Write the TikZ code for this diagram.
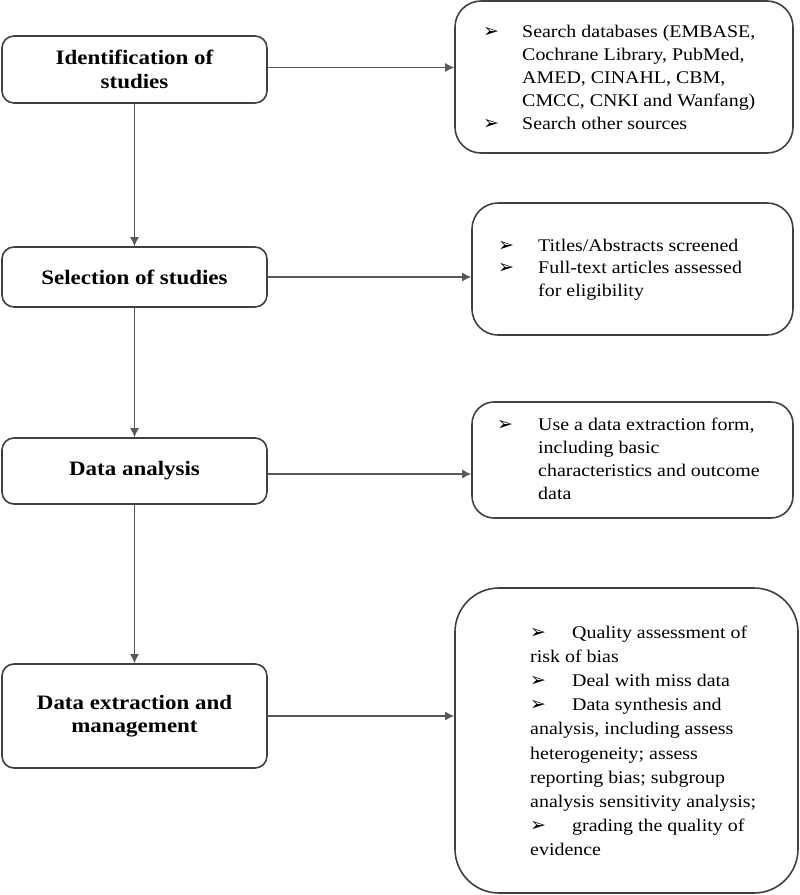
\documentclass[tikz,border=0pt]{standalone}
\usepackage{fontspec}
\setmainfont[FakeStretch=1.12]{Liberation Serif}
\newfontfamily\dejavu{DejaVu Sans}
\usetikzlibrary{arrows.meta}
\newcommand{\bul}{{\dejavu\fontsize{19}{19}\selectfont ➢}}
\begin{document}
\begin{tikzpicture}[x=1pt,y=-1pt,
  leftbox/.style={draw=black!75, line width=1.6pt, rounded corners=12pt, inner sep=0pt,
     minimum width=265pt, align=center, font=\fontsize{20.5}{23.5}\selectfont\bfseries},
  rightbox/.style={draw=black!75, line width=1.6pt, inner sep=0pt},
  itemtext/.style={anchor=base west, inner sep=0pt, font=\fontsize{17.8}{23}\selectfont},
  conn/.style={draw=black!65, line width=1.3pt, -{Latex[length=9pt,width=9pt]}}]
\useasboundingbox (0,0) rectangle (800,895);
% left column
\node[leftbox, minimum height=67pt] (b1) at (134.5,69.5) {Identification of\\studies};
\node[leftbox, minimum height=60pt] (b2) at (134.5,277) {Selection of studies};
\node[leftbox, minimum height=66pt] (b3) at (134.5,471) {Data analysis};
\node[leftbox, minimum height=104pt] (b4) at (134.5,716) {Data extraction and\\management};
% right column boxes
\node[rightbox, rounded corners=26pt, minimum width=338pt, minimum height=152pt] (r1) at (624,77) {};
\node[rightbox, rounded corners=26pt, minimum width=321pt, minimum height=132pt] (r2) at (632.5,269) {};
\node[rightbox, rounded corners=22pt, minimum width=321pt, minimum height=116pt] (r3) at (632.5,460) {};
\node[rightbox, rounded corners=44pt, minimum width=343pt, minimum height=305pt] (r4) at (626.5,740.5) {};
% texts
\node[itemtext] (t1) at (483,37) {\begin{tabular}[t]{@{}p{39pt}@{}l@{}}
\bul & Search databases (EMBASE,\\
 & Cochrane Library, PubMed,\\
 & AMED, CINAHL, CBM,\\
 & CMCC, CNKI and Wanfang)\\
\bul & Search other sources
\end{tabular}};
\node[itemtext, font=\fontsize{17.8}{22.5}\selectfont] (t2) at (498,251) {\begin{tabular}[t]{@{}p{40pt}@{}l@{}}
\bul & Titles/Abstracts screened\\
\bul & Full-text articles assessed\\
 & for eligibility
\end{tabular}};
\node[itemtext] (t3) at (497,430) {\begin{tabular}[t]{@{}p{41pt}@{}l@{}}
\bul & Use a data extraction form,\\
 & including basic\\
 & characteristics and outcome\\
 & data
\end{tabular}};
\node[itemtext, font=\fontsize{17.8}{24.2}\selectfont] (t4) at (530,638) {\begin{tabular}[t]{@{}l@{}}
\makebox[42pt][l]{\bul}Quality assessment of\\
risk of bias\\
\makebox[42pt][l]{\bul}Deal with miss data\\
\makebox[42pt][l]{\bul}Data synthesis and\\
analysis, including assess\\
heterogeneity; assess\\
reporting bias; subgroup\\
analysis sensitivity analysis;\\
\makebox[42pt][l]{\bul}grading the quality of\\
evidence
\end{tabular}};
% connectors
\draw[conn] (b1.south) -- (b2.north);
\draw[conn] (b2.south) -- (b3.north);
\draw[conn] (b3.south) -- (b4.north);
\draw[conn] ([yshift=2pt]b1.east) -- ([yshift=2pt]b1.east -| r1.west);
\draw[conn] (b2.east) -- (b2.east -| r2.west);
\draw[conn] ([yshift=-3pt]b3.east) -- ([yshift=-3pt]b3.east -| r3.west);
\draw[conn] (b4.east) -- (b4.east -| r4.west);
\end{tikzpicture}
\end{document}
